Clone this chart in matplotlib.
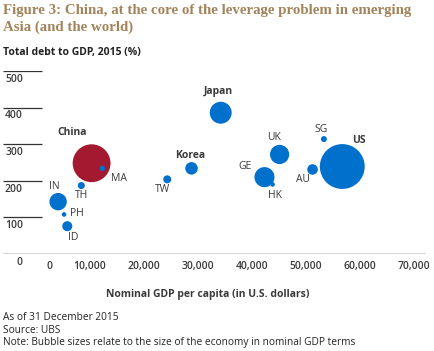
import matplotlib.pyplot as plt
from matplotlib.transforms import ScaledTranslation

# Данные
countries = ['China', 'MA', 'TH', 'IN', 'PH', 'ID', 'TW', 'Korea', 'Japan',
             'UK', 'GE', 'HK', 'AU', 'SG', 'US']
gdp_per_capita = [10300, 12300, 8400, 4100, 5200, 5800, 24300, 28800, 34200,
                  45100, 42300, 43800, 51200, 53300, 56700]
debt_to_gdp = [248, 234, 187, 143, 108, 76, 204, 234, 386,
               272, 210, 190, 231, 314, 239]
gdp_trn = [12.8, 0.26, 0.44, 2.7, 0.19, 0.9, 0.57, 1.4, 4.3,
           3.3, 3.6, 0.19, 1.0, 0.32, 18.0]
bold_labels = ['China', 'Korea', 'Japan', 'US']
# смещения подписей (в точках)
label_offsets = [(-14, 22), (12, -7), (0, -7), (-3, 11), (9, 1), (4, -8),
                 (-3, -7), (-1, 9), (-2, 15), (-4, 12), (-14, 8), (2, -8),
                 (-7, -7), (-2, 7), (12, 19)]

x_ticks = [0, 10000, 20000, 30000, 40000, 50000, 60000, 70000]
y_ticks = [0, 100, 200, 300, 400, 500]

blue = '#0070CD'
red = '#A3192F'
text_col = '#3a3a3a'
plt.rcParams['font.family'] = ['Open Sans', 'DejaVu Sans']

fig = plt.figure(figsize=(4.35, 3.51), dpi=100)
W, H = 435, 351
ax = fig.add_axes([3 / W, (H - 254) / H, 423 / W, (254 - 71) / H])
ax.set_xlim(-6100, 72200)
ax.set_ylim(0, 500)
for s in ax.spines.values():
    s.set_visible(False)

# короткие линии сетки слева и ось 0
ax.hlines(y_ticks[1:], 0, 39 / 423, transform=ax.get_yaxis_transform(),
          color='#333333', lw=0.9)
ax.axhline(0, color='#333333', lw=1.0)

ax.set_yticks([])
for v in y_ticks:
    ax.annotate(str(v), (20 / 423, v), xycoords=ax.get_yaxis_transform(),
                xytext=(0, -2), textcoords='offset points',
                ha='right', va='top', fontsize=7.5, fontweight='semibold',
                color=text_col)

ax.set_xticks(x_ticks)
ax.set_xticklabels([f'{v:,}' for v in x_ticks], fontsize=7.5,
                   fontweight='semibold', color=text_col)
ax.tick_params(axis='x', length=0, pad=5)
lbl0 = ax.get_xticklabels()[0]
lbl0.set_transform(lbl0.get_transform() + ScaledTranslation(10 / 72, 0, fig.dpi_scale_trans))

sizes = [g * 58 for g in gdp_trn]
colors = [red if c == 'China' else blue for c in countries]
ax.scatter(gdp_per_capita, debt_to_gdp, s=sizes, c=colors, linewidths=0,
           clip_on=False, zorder=3)

for c, x, y, off in zip(countries, gdp_per_capita, debt_to_gdp, label_offsets):
    ax.annotate(c, (x, y), xytext=off, textcoords='offset points',
                ha='center', va='center', fontsize=7.5, color=text_col,
                fontweight='bold' if c in bold_labels else 'normal')

fig.text(3 / W, 1 - 4 / H, 'Figure 3: China, at the core of the leverage problem in emerging\nAsia (and the world)',
         family='Liberation Serif', fontweight='bold', fontsize=10.7,
         color='#A3835A', va='top', linespacing=1.35)
fig.text(3 / W, 1 - 52 / H, 'Total debt to GDP, 2015 (%)', fontsize=7.5,
         fontweight='bold', color='#222222', va='center')
fig.text(208 / W, 1 - 294 / H, 'Nominal GDP per capita (in U.S. dollars)',
         fontsize=7.5, fontweight='bold', color=text_col, ha='center', va='center')
fig.text(3 / W, 1 - 312 / H,
         'As of 31 December 2015\nSource: UBS\nNote: Bubble sizes relate to the size of the economy in nominal GDP terms',
         fontsize=7.3, color='#222222', va='top', linespacing=1.2)

fig.savefig('out.png', dpi=100)
